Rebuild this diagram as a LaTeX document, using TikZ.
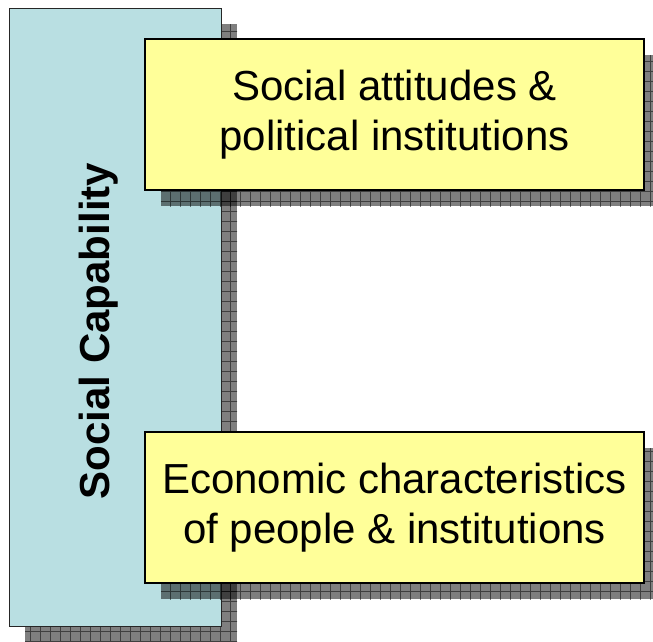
\documentclass[tikz,border=0pt]{standalone}
\usepackage{fontspec}
\setmainfont{Liberation Sans}
\usetikzlibrary{shadows,patterns.meta}
\definecolor{capblue}{HTML}{B9DFE2}
\definecolor{boxyellow}{HTML}{FFFF99}
\tikzset{
  boxshadow/.style={drop shadow={shadow xshift=16pt, shadow yshift=-16pt, fill=black, fill opacity=.5,
      postaction={pattern={Hatch[distance=10pt, angle=0, line width=.7pt]}, pattern color=black}}},
  capbox/.style={rectangle, draw=black!85, line width=1pt, fill=capblue, boxshadow, minimum width=212pt, minimum height=618pt},
  factorbox/.style={rectangle, draw=black, line width=1.2pt, fill=boxyellow, boxshadow, align=center,
      minimum width=499pt, minimum height=151pt, font=\fontsize{42}{50}\selectfont},
}
\begin{document}
\begin{tikzpicture}[x=1pt, y=-1pt]
\useasboundingbox (0,0) rectangle (653,641);
\node[capbox] (cap) at (115,317) {};
\node[rotate=90, font=\fontsize{42}{50}\selectfont\bfseries] (captext) at (99,331) {Social Capability};
\node[factorbox] (attitudes) at (394.5,114.5) {Social attitudes \&\\political institutions};
\node[factorbox] (economic) at (394.5,507.5) {Economic characteristics\\of people \& institutions};
\end{tikzpicture}
\end{document}
